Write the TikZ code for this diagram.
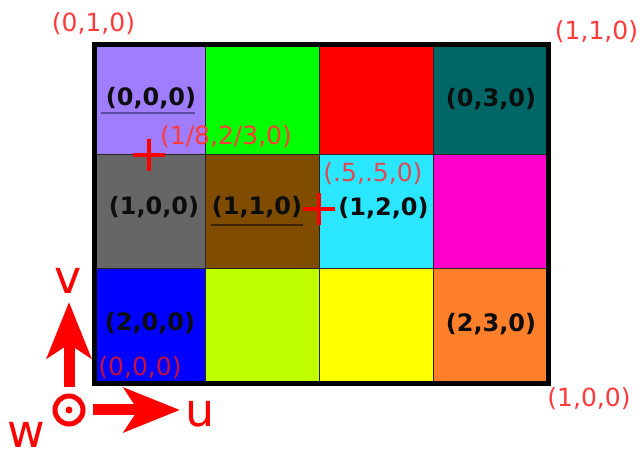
\documentclass[tikz,border=0pt]{standalone}
\usepackage{fontspec}
\setmainfont{DejaVu Sans}
\usetikzlibrary{arrows.meta}
\definecolor{cPurple}{HTML}{A07CFF}
\definecolor{cGreen}{HTML}{00FF00}
\definecolor{cRed}{HTML}{FF0000}
\definecolor{cTeal}{HTML}{006666}
\definecolor{cGray}{HTML}{666666}
\definecolor{cBrown}{HTML}{7F4C00}
\definecolor{cCyan}{HTML}{2AE6FF}
\definecolor{cMagenta}{HTML}{FF00CC}
\definecolor{cBlue}{HTML}{0000FF}
\definecolor{cLime}{HTML}{BFFF00}
\definecolor{cYellow}{HTML}{FFFF00}
\definecolor{cOrange}{HTML}{FF7F2A}
\definecolor{labred}{HTML}{FF3B3B}
\definecolor{labpink}{HTML}{DD4A52}
\definecolor{labcrim}{HTML}{C8103C}
\definecolor{ulpurple}{HTML}{5E4C9E}
\definecolor{ulbrown}{HTML}{3A2600}
\begin{document}
\begin{tikzpicture}[x=1pt,y=1pt,
  idx/.style={inner sep=0pt,font=\fontsize{24}{28}\selectfont\bfseries,text=black!95},
  coord/.style={inner sep=0pt,font=\fontsize{25}{30}\selectfont,text=labred},
  axislab/.style={inner sep=0pt,font=\fontsize{46}{52}\selectfont,text=cRed},
  cross/.style={draw=cRed,line width=4pt},
  axisarrow/.style={draw=cRed,line width=11pt,-{Stealth[length=56pt,width=44pt,inset=14pt]}},
  gridline/.style={draw=black!85,line width=1pt},
  ul/.style={line width=1.2pt}]
\useasboundingbox (0,0) rectangle (640,454);
% cells
\fill[cPurple]  (94.5,299) rectangle (205,409.5);
\fill[cGreen]   (205,299) rectangle (319,409.5);
\fill[cRed]     (319,299) rectangle (433,409.5);
\fill[cTeal]    (433,299) rectangle (548.5,409.5);
\fill[cGray]    (94.5,185) rectangle (205,299);
\fill[cBrown]   (205,185) rectangle (319,299);
\fill[cCyan]    (319,185) rectangle (433,299);
\fill[cMagenta] (433,185) rectangle (548.5,299);
\fill[cBlue]    (94.5,70) rectangle (205,185);
\fill[cLime]    (205,70) rectangle (319,185);
\fill[cYellow]  (319,70) rectangle (433,185);
\fill[cOrange]  (433,70) rectangle (548.5,185);
% grid lines
\draw[gridline] (205,70) -- (205,409.5);
\draw[gridline] (319,70) -- (319,409.5);
\draw[gridline] (433,70) -- (433,409.5);
\draw[gridline] (94.5,299) -- (548.5,299);
\draw[gridline] (94.5,185) -- (548.5,185);
\draw[line width=5pt,black] (94.5,70) rectangle (548.5,409.5);
% cell labels
\node[idx] (c00) at (151,356) {(0,0,0)};
\node[idx] (c03) at (491,355) {(0,3,0)};
\node[idx] (c10) at (154,247) {(1,0,0)};
\node[idx] (c11) at (257,247) {(1,1,0)};
\node[idx] (c12) at (383.5,246) {(1,2,0)};
\node[idx] (c20) at (150,131) {(2,0,0)};
\node[idx] (c23) at (491,130) {(2,3,0)};
\draw[ul,ulpurple] (101,341) -- (195,341);
\draw[ul,ulbrown] (211,229) -- (303,229);
% crosses
\coordinate (p1) at (149,299);
\coordinate (p2) at (319,245);
\draw[cross] ([xshift=-16pt]p1) -- ([xshift=16pt]p1);
\draw[cross] ([yshift=-16pt]p1) -- ([yshift=16pt]p1);
\draw[cross] ([xshift=-16pt]p2) -- ([xshift=16pt]p2);
\draw[cross] ([yshift=-16pt]p2) -- ([yshift=16pt]p2);
% coordinate labels
\node[coord] (l010) at (93.5,430) {(0,1,0)};
\node[coord] (l110) at (596.5,422.5) {(1,1,0)};
\node[coord] (l18) at (226,317) {(1/8,2/3,0)};
\node[coord,text=labpink] (l55) at (373,280) {(.5,.5,0)};
\node[coord,text=labcrim] (l000) at (140,86) {(0,0,0)};
\node[coord] (l100) at (589,55) {(1,0,0)};
% axes
\coordinate (o) at (69,44);
\coordinate (vs) at (69,67);
\coordinate (vt) at (69,152);
\coordinate (us) at (93,44);
\coordinate (ut) at (180,44);
\draw[axisarrow] (vs) -- (vt);
\draw[axisarrow] (us) -- (ut);
\draw[cRed,line width=5pt] (o) circle (14pt);
\fill[cRed] (o) circle (3.5pt);
\node[axislab] (vl) at (68.5,173) {v};
\node[axislab] (ul) at (200.5,40.5) {u};
\node[axislab] (wl) at (26.5,19.5) {w};
\end{tikzpicture}
\end{document}
